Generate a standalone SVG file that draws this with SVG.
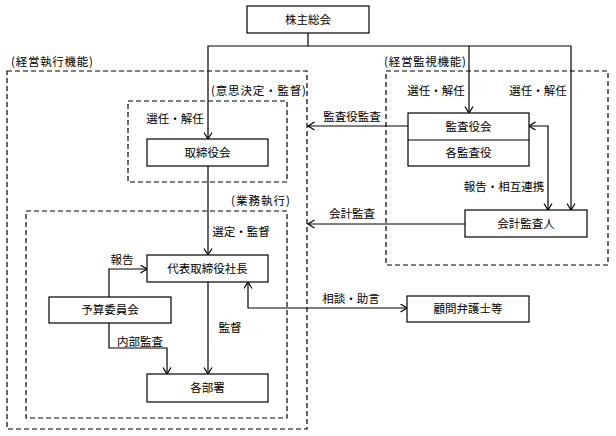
<svg xmlns="http://www.w3.org/2000/svg" width="616" height="436" viewBox="0 0 616 436">
<style>
text{font-family:"Noto Sans CJK JP","Noto Sans CJK SC",sans-serif;font-size:11.5px;fill:#000}
.box{fill:#fff;stroke:#000;stroke-width:1.2}
.grp{fill:none;stroke:#000;stroke-width:1.2;stroke-dasharray:5,3}
.c{text-anchor:middle}
.ln{fill:none;stroke:#000;stroke-width:1.2}
</style>
<defs>
<marker id="a" markerWidth="10" markerHeight="10" refX="7" refY="4.5" orient="auto-start-reverse" markerUnits="userSpaceOnUse">
<path d="M0.5,0.5 L7,4.5 L0.5,8.5" fill="none" stroke="#000" stroke-width="1.2"/>
</marker>
</defs>
<rect width="616" height="436" fill="#fff"/>
<g id="groups">
<rect class="grp" x="7" y="71" width="300" height="358"/>
<text x="11" y="66" textLength="82">(経営執行機能)</text>
<rect class="grp" x="128" y="101" width="159" height="81"/>
<text x="306" y="95" text-anchor="end" textLength="95">(意思決定・監督)</text>
<rect class="grp" x="26" y="211" width="261" height="207"/>
<text x="290" y="205" text-anchor="end" textLength="59">(業務執行)</text>
<rect class="grp" x="386" y="71" width="222" height="194"/>
<text x="384" y="66" textLength="82">(経営監視機能)</text>
</g>
<g id="connectors">
<path class="ln" d="M308,33 V46 H208 V139" marker-end="url(#a)"/>
<path class="ln" d="M308,46 H469 V113" marker-end="url(#a)"/>
<path class="ln" d="M469,46 H571 V210" marker-end="url(#a)"/>
<path class="ln" d="M208,166 V255" marker-end="url(#a)"/>
<path class="ln" d="M208,282 V374" marker-end="url(#a)"/>
<path class="ln" d="M109,297 V269 H147" marker-end="url(#a)"/>
<path class="ln" d="M109,323 V348 H167 V374" marker-end="url(#a)"/>
<path class="ln" d="M248,282 V308 H407" marker-start="url(#a)" marker-end="url(#a)"/>
<path class="ln" d="M408,126 H308" marker-end="url(#a)"/>
<path class="ln" d="M465,224 H308" marker-end="url(#a)"/>
<path class="ln" d="M529,126 H548 V210" marker-start="url(#a)" marker-end="url(#a)"/>
<text x="175" y="123" class="c">選任・解任</text>
<text x="436" y="95" class="c">選任・解任</text>
<text x="538" y="95" class="c">選任・解任</text>
<text x="352" y="121" class="c">監査役監査</text>
<text x="504" y="191" class="c">報告・相互連携</text>
<text x="352" y="218" class="c">会計監査</text>
<text x="241" y="236" class="c">選定・監督</text>
<text x="122" y="264" class="c">報告</text>
<text x="140" y="346" class="c">内部監査</text>
<text x="230" y="332" class="c">監督</text>
<text x="351" y="303" class="c">相談・助言</text>
</g>
<g id="n-kabunushi"><rect class="box" x="247" y="6" width="122" height="27"/><text x="308" y="24" class="c">株主総会</text></g>
<g id="n-torishimari"><rect class="box" x="147" y="139" width="121" height="27"/><text x="207.5" y="157" class="c">取締役会</text></g>
<g id="n-kansayaku"><rect class="box" x="408" y="113" width="121" height="53"/><line class="ln" x1="408" y1="140" x2="529" y2="140"/><text x="468.5" y="131" class="c">監査役会</text><text x="468.5" y="157" class="c">各監査役</text></g>
<g id="n-kaikei"><rect class="box" x="465" y="210" width="122" height="27"/><text x="526" y="228" class="c">会計監査人</text></g>
<g id="n-daihyo"><rect class="box" x="147" y="255" width="121" height="27"/><text x="207.5" y="273" class="c">代表取締役社長</text></g>
<g id="n-yosan"><rect class="box" x="49" y="297" width="122" height="26"/><text x="110" y="314" class="c">予算委員会</text></g>
<g id="n-kakubusho"><rect class="box" x="147" y="374" width="121" height="28"/><text x="207.5" y="392" class="c">各部署</text></g>
<g id="n-komon"><rect class="box" x="407" y="296" width="122" height="26"/><text x="468" y="313" class="c">顧問弁護士等</text></g>
</svg>
